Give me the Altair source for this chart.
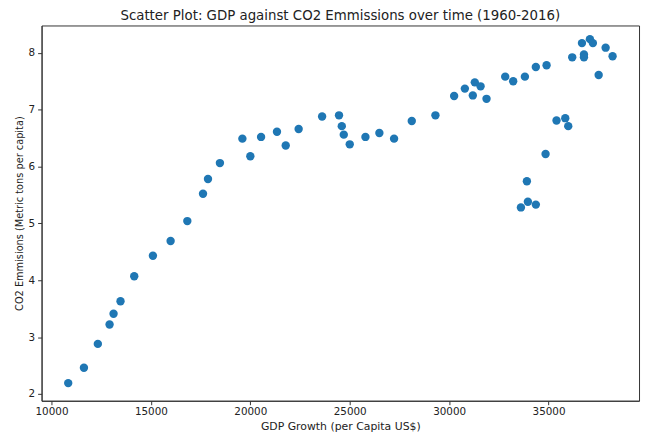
import altair as alt
import pandas as pd

gdp = [10840, 11630, 12330, 12920, 13120, 13470, 14160, 15100, 15990, 16830,
       17620, 17870, 18470, 19600, 20000, 20540, 21340, 21780, 22430, 23610,
       24460, 24600, 24700, 25000, 25790, 26490, 27230, 28120, 29310, 30250,
       30790, 31190, 31290, 31580, 31880, 32820, 33220, 33810, 34360, 34900,
       35400, 35840, 35990, 34850, 33910, 33960, 34360, 33610, 36190, 36780,
       36780, 36680, 37080, 37230, 37870, 37520, 38220]
co2 = [2.19, 2.46, 2.88, 3.22, 3.41, 3.63, 4.07, 4.43, 4.69, 5.04,
       5.52, 5.78, 6.06, 6.49, 6.18, 6.52, 6.61, 6.37, 6.66, 6.88,
       6.90, 6.71, 6.56, 6.39, 6.52, 6.59, 6.49, 6.80, 6.90, 7.24,
       7.37, 7.25, 7.48, 7.41, 7.19, 7.58, 7.50, 7.58, 7.75, 7.78,
       6.81, 6.85, 6.71, 6.22, 5.74, 5.38, 5.33, 5.28, 7.92, 7.97,
       7.92, 8.17, 8.24, 8.17, 8.09, 7.61, 7.94]
x_ticks = [10000, 15000, 20000, 25000, 30000, 35000]
y_ticks = [2, 3, 4, 5, 6, 7, 8]

df = pd.DataFrame({"gdp": gdp, "co2": co2})

chart = alt.Chart(df).mark_circle(size=72, color="#1f77b4", opacity=1).encode(
    x=alt.X("gdp:Q",
            scale=alt.Scale(domain=[9500, 39550], nice=False, zero=False),
            axis=alt.Axis(values=x_ticks, title="GDP Growth (per Capita  US$)",
                          grid=False, format="d", labelFontSize=10.5,
                          titleFontSize=11, titleFontWeight="normal",
                          titlePadding=4, labelPadding=2)),
    y=alt.Y("co2:Q",
            scale=alt.Scale(domain=[1.88, 8.48], nice=False, zero=False),
            axis=alt.Axis(values=y_ticks, title="CO2 Emmisions (Metric tons per capita)",
                          grid=False, format="d", labelFontSize=10.5,
                          titleFont="DejaVu Sans Condensed, Liberation Sans Narrow, DejaVu Sans",
                          titleFontSize=11, titleFontWeight="normal",
                          titlePadding=4, labelPadding=3)),
).properties(
    width=605,
    height=380,
    autosize=alt.AutoSizeParams(type="none"),
    padding={"left": 34, "top": 15, "right": 2, "bottom": 34},
    title=alt.TitleParams("Scatter Plot: GDP against CO2 Emmissions over time (1960-2016)",
                          fontSize=13.5, fontWeight="normal", font="DejaVu Sans",
                          color="#222", offset=3),
).configure_axis(
    labelFont="DejaVu Sans", titleFont="DejaVu Sans",
    labelColor="#222", titleColor="#222",
    domainColor="#333", tickColor="#333", tickSize=4, domainWidth=1,
).configure_view(stroke="#333", strokeWidth=1)

chart.save("out.html", embed_options={"renderer": "svg", "actions": False})
